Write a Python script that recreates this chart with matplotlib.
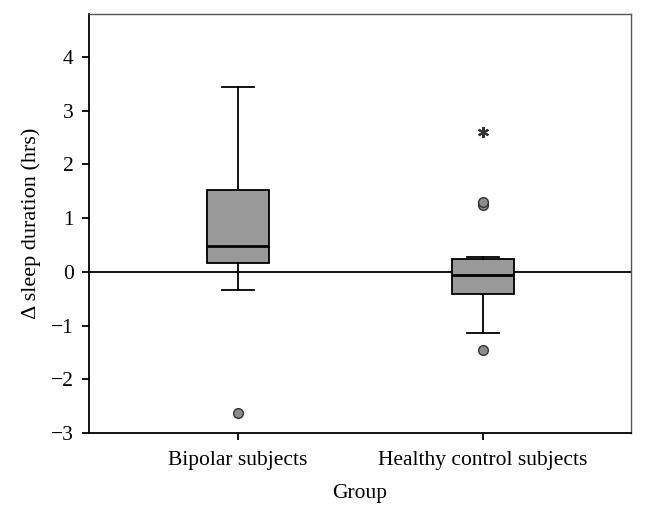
import matplotlib.pyplot as plt

groups = ['Bipolar subjects', 'Healthy control subjects']
q1 = [0.17, -0.41]
med = [0.49, -0.06]
q3 = [1.52, 0.24]
whislo = [-0.33, -1.13]
whishi = [3.45, 0.27]
outliers = [[-2.63], [1.25, 1.30, -1.46]]
extremes = [[], [2.60]]

plt.rcParams['font.family'] = ['Liberation Serif', 'DejaVu Serif']

fig = plt.figure(figsize=(6.46, 5.17), dpi=100)
ax = fig.add_axes([0.1378, 0.1625, 0.839, 0.8104])

stats = []
for i, g in enumerate(groups):
    stats.append(dict(label=g, q1=q1[i], med=med[i], q3=q3[i],
                      whislo=whislo[i], whishi=whishi[i], fliers=outliers[i]))

ax.bxp(stats, positions=[1, 2], widths=0.25, patch_artist=True,
       boxprops=dict(facecolor='#999999', edgecolor='black', linewidth=1.3),
       medianprops=dict(color='black', linewidth=2),
       whiskerprops=dict(color='black', linewidth=1.3),
       capprops=dict(color='black', linewidth=1.3),
       capwidths=0.13,
       flierprops=dict(marker='o', markerfacecolor='#8c8c8c',
                       markeredgecolor='#333333', markersize=7, markeredgewidth=1))

for i, ex in enumerate(extremes):
    if ex:
        ax.plot([i + 1] * len(ex), ex, linestyle='none', marker=(6, 2, 0),
                color='#333333', markersize=8, markeredgewidth=1.5)

ax.axhline(0, color='black', linewidth=1.3, zorder=0.5)

ax.set_xlim(0.392, 2.604)
ax.set_ylim(-3, 4.8)
ax.set_yticks(range(-3, 5))
ax.set_yticklabels(['\u22123', '\u22122', '\u22121', '0', '1', '2', '3', '4'])
ax.set_xticks([1, 2])
ax.set_xticklabels(groups)
ax.tick_params(labelsize=15.5, width=1.3, length=5, color='black')
ax.tick_params(axis='y', pad=6)
ax.tick_params(axis='x', pad=8)
ax.set_xlabel('Group', fontsize=15.5, labelpad=10)
ax.set_ylabel('\u0394 sleep duration (hrs)', fontsize=16, labelpad=7)

for s in ['left', 'bottom']:
    ax.spines[s].set_linewidth(1.3)
for s in ['top', 'right']:
    ax.spines[s].set_linewidth(1.0)
    ax.spines[s].set_color('#555555')

fig.savefig('out.png', dpi=100)
